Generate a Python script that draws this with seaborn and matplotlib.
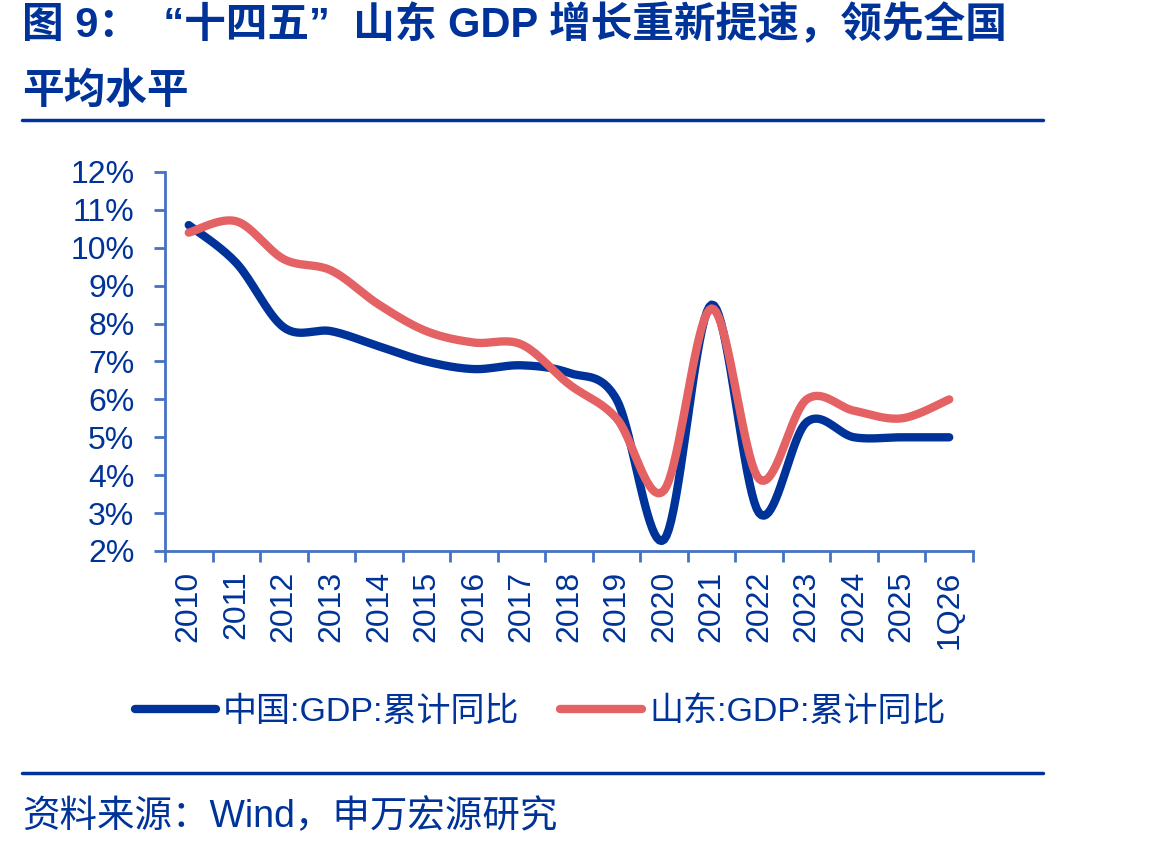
import numpy as np
import pandas as pd
import seaborn as sns
import matplotlib.pyplot as plt

# data (%)
periods = ['2010', '2011', '2012', '2013', '2014', '2015', '2016', '2017', '2018',
           '2019', '2020', '2021', '2022', '2023', '2024', '2025', '1Q26']
china = [10.6, 9.6, 7.9, 7.8, 7.4, 7.0, 6.8, 6.9, 6.7, 6.0, 2.3, 8.5, 3.0, 5.4, 5.0, 5.0, 5.0]
shandong = [10.4, 10.7, 9.7, 9.4, 8.5, 7.8, 7.5, 7.45, 6.4, 5.5, 3.6, 8.4, 3.9, 6.0, 5.7, 5.5, 6.0]
names = ['中国:GDP:累计同比', '山东:GDP:累计同比']
colors = ['#003399', '#E46264']

NAVY = '#003399'
AXIS = '#4472C4'

sns.set_style('white')
plt.rcParams['font.family'] = ['Liberation Sans', 'Noto Sans CJK SC']


def smooth(y, n=20):
    # excel-like smoothed line (catmull-rom bezier through every point)
    y = np.asarray(y, float)
    x = np.arange(len(y), dtype=float)
    xp = np.r_[x[0], x, x[-1]]
    yp = np.r_[y[0], y, y[-1]]
    xs, ys = [], []
    t = np.linspace(0, 1, n, endpoint=False)
    for i in range(len(y) - 1):
        p0x, p0y = xp[i + 1], yp[i + 1]
        p3x, p3y = xp[i + 2], yp[i + 2]
        p1x = p0x + (xp[i + 2] - xp[i]) / 6
        p1y = p0y + (yp[i + 2] - yp[i]) / 6
        p2x = p3x - (xp[i + 3] - xp[i + 1]) / 6
        p2y = p3y - (yp[i + 3] - yp[i + 1]) / 6
        b0, b1, b2, b3 = (1 - t) ** 3, 3 * t * (1 - t) ** 2, 3 * t ** 2 * (1 - t), t ** 3
        xs.append(b0 * p0x + b1 * p1x + b2 * p2x + b3 * p3x)
        ys.append(b0 * p0y + b1 * p1y + b2 * p2y + b3 * p3y)
    xs.append([x[-1]])
    ys.append([y[-1]])
    return np.concatenate(xs), np.concatenate(ys)


frames = []
for name, vals in zip(names, [china, shandong]):
    sx, sy = smooth(vals)
    frames.append(pd.DataFrame({'x': sx, 'y': sy, 'series': name}))
df = pd.concat(frames, ignore_index=True)

fig = plt.figure(figsize=(11.65, 8.49), dpi=100)
ax = fig.add_axes([165 / 1165, 1 - 551 / 849, (973 - 165) / 1165, (551 - 172) / 849])

sns.lineplot(data=df, x='x', y='y', hue='series', palette=dict(zip(names, colors)),
             sort=False, estimator=None, linewidth=6, solid_capstyle='round',
             legend=False, ax=ax)

ax.set_xlim(-0.5, len(periods) - 0.5)
ax.set_ylim(2, 12)
ax.set_xlabel('')
ax.set_ylabel('')

ax.set_yticks(range(2, 13))
ax.set_yticklabels([f'{v}%' for v in range(2, 13)])
ax.set_xticks(range(len(periods)))
ax.set_xticklabels(periods, rotation=90)
ax.set_xticks(np.arange(-0.5, len(periods), 1), minor=True)

for s in ['top', 'right']:
    ax.spines[s].set_visible(False)
for s in ['left', 'bottom']:
    ax.spines[s].set_color(AXIS)
    ax.spines[s].set_linewidth(2)

ax.tick_params(axis='y', which='major', direction='out', length=8, width=2, color=AXIS,
               labelsize=23, labelcolor=NAVY, pad=14, left=True)
ax.tick_params(axis='x', which='major', length=0, labelsize=23, labelcolor=NAVY, pad=14)
ax.tick_params(axis='x', which='minor', direction='out', length=8, width=2, color=AXIS,
               bottom=True)

handles = [plt.Line2D([], [], color=c, linewidth=6, solid_capstyle='round') for c in colors]
fig.legend(handles, names, loc='center', bbox_to_anchor=(540 / 1165, 1 - 712 / 849),
           ncol=2, frameon=False, fontsize=24.5, handlelength=2.4, handletextpad=0.2,
           columnspacing=1.2, labelcolor=NAVY)

# title and source
fig.text(22 / 1165, 1 - 25 / 849, '图 9：  “十四五”  山东 GDP 增长重新提速，领先全国',
         fontsize=30, fontweight='bold', color=NAVY, va='center', ha='left')
fig.text(22 / 1165, 1 - 92 / 849, '平均水平',
         fontsize=30, fontweight='bold', color=NAVY, va='center', ha='left')
fig.add_artist(plt.Line2D([22 / 1165, 1043 / 1165], [1 - 120 / 849] * 2, color=NAVY, linewidth=2.5))
fig.add_artist(plt.Line2D([22 / 1165, 1043 / 1165], [1 - 773 / 849] * 2, color=NAVY, linewidth=2.5))
fig.text(22 / 1165, 1 - 817 / 849, '资料来源：Wind，申万宏源研究',
         fontsize=27, color=NAVY, va='center', ha='left')

fig.savefig('out.png', dpi=100, facecolor='white')
